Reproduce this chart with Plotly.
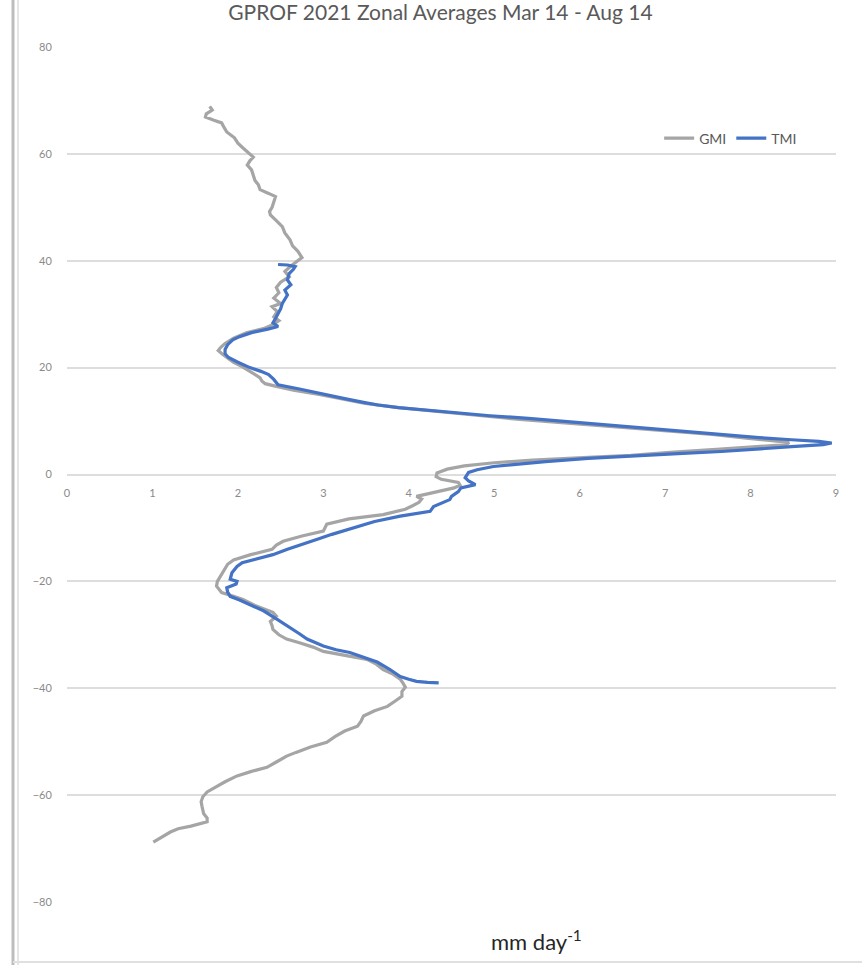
import plotly.graph_objects as go

# Zonal mean precipitation (mm/day) by latitude, GPROF 2021, Mar 14 - Aug 14
gmi_lat = [68.9, 68.2, 67.5, 66.9, 66.3, 65.8, 64.9, 64.1, 63.0, 62.0, 61.1, 60.2, 59.4, 58.7,
           57.9, 57.0, 56.1, 55.0, 54.2, 53.3, 52.6, 52.0, 51.0, 50.0, 49.2, 48.6, 47.5, 46.4,
           45.2, 43.9, 42.8, 41.8, 40.6, 39.8, 39.0, 38.0, 37.0, 36.0, 35.0, 34.0, 33.0, 32.0,
           31.4, 30.5, 29.5, 28.8, 28.0, 27.3, 26.5, 25.5, 24.5, 23.8, 23.2, 22.5, 21.8, 21.0,
           20.2, 19.5, 18.8, 18.1, 17.5, 17.0, 16.5, 15.8, 15.0, 14.0, 13.3, 12.5, 11.8, 11.0,
           10.3, 9.6, 9.0, 8.2, 7.5, 6.8, 6.3, 6.0, 5.6, 5.2, 4.7, 4.2, 3.6, 3.2, 2.7, 2.2,
           1.6, 1.0, 0.3, -0.4, -0.9, -1.5, -2.0, -2.5, -3.2, -4.1, -4.6, -5.2, -5.8, -6.5,
           -7.5, -8.3, -9.3, -10.0, -10.6, -11.5, -12.5, -13.2, -14.0, -15.0, -16.0, -16.8,
           -17.8, -19.0, -20.0, -20.9, -21.5, -22.1, -22.8, -23.4, -24.5, -25.8, -26.5, -27.5,
           -28.3, -29.0, -30.0, -30.8, -31.5, -32.3, -33.1, -33.8, -34.6, -35.5, -36.5, -37.4,
           -38.3, -39.0, -39.8, -40.6, -41.5, -42.3, -43.4, -44.2, -45.2, -46.2, -47.1, -48.0,
           -49.0, -50.1, -51.0, -52.0, -52.7, -53.8, -54.8, -55.6, -56.4, -57.5, -58.5, -59.4,
           -60.3, -61.2, -62.1, -63.5, -64.3, -65.0, -65.8, -66.3, -66.9, -67.5, -68.2, -68.8]
gmi_rain = [1.67, 1.70, 1.63, 1.62, 1.72, 1.81, 1.84, 1.87, 1.96, 2.00, 2.06, 2.12, 2.18, 2.14,
            2.11, 2.16, 2.18, 2.20, 2.24, 2.26, 2.36, 2.44, 2.42, 2.40, 2.37, 2.38, 2.45, 2.52,
            2.55, 2.61, 2.64, 2.70, 2.75, 2.68, 2.62, 2.55, 2.60, 2.50, 2.45, 2.48, 2.42, 2.50,
            2.40, 2.46, 2.42, 2.48, 2.40, 2.30, 2.10, 1.95, 1.85, 1.80, 1.77, 1.82, 1.88, 1.95,
            2.05, 2.12, 2.20, 2.26, 2.28, 2.32, 2.45, 2.65, 2.95, 3.25, 3.49, 3.88, 4.30, 4.85,
            5.30, 5.85, 6.40, 6.95, 7.55, 7.95, 8.25, 8.45, 8.42, 8.10, 7.60, 7.10, 6.60, 6.10,
            5.45, 5.00, 4.65, 4.45, 4.33, 4.32, 4.38, 4.58, 4.60, 4.53, 4.35, 4.09, 4.15, 4.12,
            4.05, 3.96, 3.70, 3.30, 3.04, 3.02, 3.00, 2.75, 2.53, 2.45, 2.40, 2.15, 1.95, 1.88,
            1.84, 1.79, 1.76, 1.75, 1.78, 1.81, 1.95, 2.06, 2.20, 2.41, 2.45, 2.38, 2.40, 2.41,
            2.48, 2.57, 2.72, 2.88, 3.00, 3.25, 3.51, 3.62, 3.70, 3.82, 3.90, 3.93, 3.96, 3.92,
            3.92, 3.85, 3.75, 3.60, 3.47, 3.44, 3.40, 3.25, 3.14, 3.04, 2.85, 2.68, 2.57, 2.45,
            2.34, 2.15, 1.99, 1.85, 1.74, 1.64, 1.59, 1.57, 1.58, 1.60, 1.64, 1.64, 1.45, 1.30,
            1.21, 1.15, 1.08, 1.01]

tmi_lat = [39.3, 39.2, 38.9, 38.4, 37.6, 36.4, 35.5, 34.5, 33.6, 32.7, 32.0, 31.0, 30.0, 29.2,
           28.4, 27.7, 27.2, 26.5, 25.8, 25.2, 24.3, 23.4, 22.6, 21.9, 21.0, 20.0, 19.3, 18.7,
           17.8, 16.8, 16.0, 15.0, 14.2, 13.5, 13.0, 12.5, 11.8, 11.0, 10.5, 9.6, 8.8, 8.1, 7.5,
           6.9, 6.5, 6.2, 5.9, 5.6, 5.2, 4.7, 4.3, 3.9, 3.5, 3.0, 2.4, 1.9, 1.5, 0.9, 0.4,
           -0.6, -1.2, -1.9, -2.5, -3.2, -4.1, -4.7, -5.5, -6.0, -6.9, -7.3, -7.8, -8.8, -9.5,
           -10.3, -11.2, -12.1, -13.0, -14.0, -15.0, -15.8, -16.5, -17.2, -18.4, -19.6, -20.0,
           -20.5, -21.2, -22.0, -22.8, -23.5, -24.3, -25.5, -27.1, -28.5, -29.8, -30.8, -32.1,
           -32.8, -33.3, -34.2, -35.1, -36.5, -37.8, -38.3, -38.7, -38.9, -39.0]
tmi_rain = [2.47, 2.58, 2.67, 2.65, 2.60, 2.58, 2.62, 2.55, 2.58, 2.55, 2.52, 2.50, 2.47, 2.44,
            2.41, 2.47, 2.35, 2.15, 2.02, 1.94, 1.88, 1.85, 1.85, 1.89, 2.00, 2.14, 2.27, 2.36,
            2.42, 2.47, 2.72, 3.00, 3.25, 3.47, 3.64, 3.88, 4.37, 4.95, 5.40, 6.05, 6.63, 7.15, 7.66,
            8.10, 8.48, 8.80, 8.95, 8.85, 8.48, 8.05, 7.66, 7.15, 6.63, 6.10, 5.60, 5.25, 4.99,
            4.80, 4.70, 4.66, 4.70, 4.78, 4.61, 4.58, 4.50, 4.48, 4.35, 4.29, 4.25, 4.10, 3.90,
            3.60, 3.45, 3.31, 3.10, 2.93, 2.75, 2.58, 2.41, 2.20, 2.05, 1.99, 1.93, 1.91, 1.99,
            1.98, 1.87, 1.88, 1.91, 2.02, 2.14, 2.30, 2.46, 2.60, 2.72, 2.81, 3.00, 3.15, 3.31,
            3.47, 3.63, 3.78, 3.90, 4.00, 4.09, 4.22, 4.35]

x_ticks = list(range(0, 10))
y_ticks = list(range(-80, 81, 20))

FONT = "Lato, Open Sans, sans-serif"
TICK_FONT = dict(family=FONT, size=11, color="#8a8a8a")

fig = go.Figure()
fig.add_trace(go.Scatter(x=gmi_rain, y=gmi_lat, mode="lines", name="GMI",
                         line=dict(color="#A5A5A5", width=3.2)))
fig.add_trace(go.Scatter(x=tmi_rain, y=tmi_lat, mode="lines", name="TMI",
                         line=dict(color="#4472C4", width=3.2)))

fig.update_layout(
    width=862, height=965,
    margin=dict(l=67, r=26, t=47, b=63),
    paper_bgcolor="white", plot_bgcolor="white",
    title=dict(text="GPROF 2021 Zonal Averages Mar 14 - Aug 14",
               x=0.511, xanchor="center", y=0.987, yanchor="middle",
               font=dict(family=FONT, size=21, color="#595959")),
    xaxis=dict(range=[0, 9], tickvals=x_ticks, showgrid=False, zeroline=False,
               showline=False, anchor="free", position=0.5,
               ticks="outside", ticklen=8, tickcolor="rgba(0,0,0,0)",
               tickfont=TICK_FONT),
    yaxis=dict(range=[-80, 80], tickvals=y_ticks, showgrid=True, gridcolor="#DDDDDD",
               gridwidth=1.5, zeroline=False, showline=False,
               ticks="outside", ticklen=12, tickcolor="rgba(0,0,0,0)",
               tickfont=TICK_FONT),
    legend=dict(orientation="h", x=0.77, xanchor="left", y=0.893, yanchor="middle",
                font=dict(family=FONT, size=14, color="#595959"),
                itemwidth=30, bgcolor="rgba(0,0,0,0)"),
    showlegend=True,
)

# Units label under the plot
fig.add_annotation(text="mm day<sup>-1</sup>", xref="paper", yref="paper",
                   x=(536 - 67) / 769, y=-(941 - 902) / 855, showarrow=False,
                   xanchor="center", yanchor="middle",
                   font=dict(family=FONT, size=22, color="#262626"))

# Chart frame edges
fig.add_shape(type="line", xref="paper", yref="paper",
              x0=(13 - 67) / 769, x1=(13 - 67) / 769, y0=-63 / 855, y1=1 + 47 / 855,
              line=dict(color="#BDBDBD", width=3))
fig.add_shape(type="line", xref="paper", yref="paper",
              x0=(18 - 67) / 769, x1=(18 - 67) / 769, y0=-63 / 855, y1=1 + 47 / 855,
              line=dict(color="#E6E6E6", width=2))
fig.add_shape(type="line", xref="paper", yref="paper",
              x0=(13 - 67) / 769, x1=1 + 26 / 769, y0=-(962 - 902) / 855, y1=-(962 - 902) / 855,
              line=dict(color="#E0E0E0", width=2))

fig.write_html("out.html")
